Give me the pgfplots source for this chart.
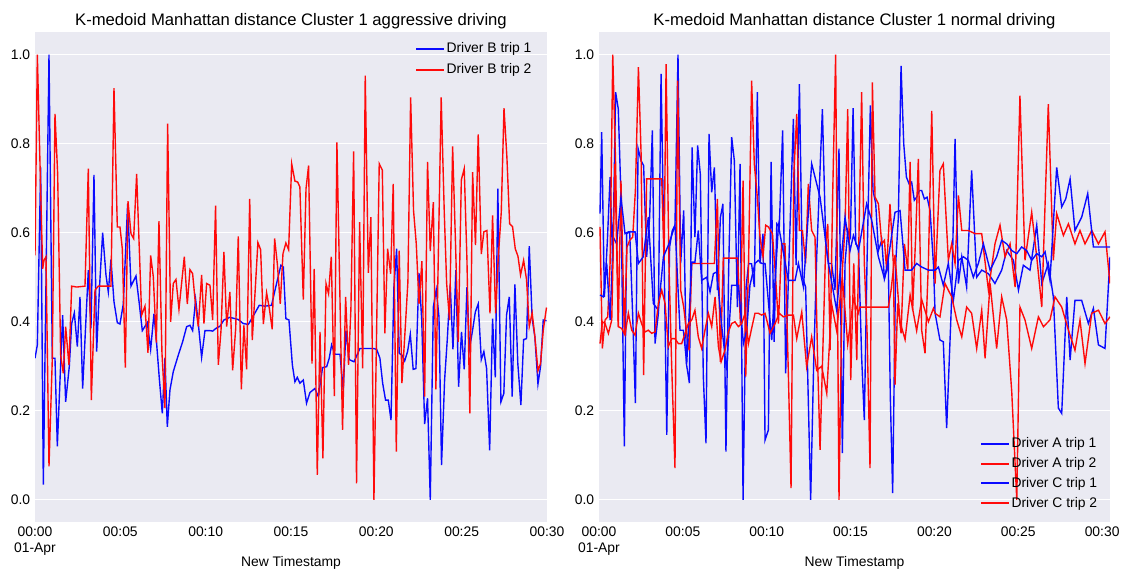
\documentclass[border=0pt]{standalone}
\usepackage{pgfplots}
\pgfplotsset{compat=1.18}
\usepackage{fontspec}
\setmainfont{Liberation Sans}
\definecolor{sbbg}{HTML}{EAEAF2}
\definecolor{lblue}{RGB}{10,10,255}
\definecolor{lred}{RGB}{255,10,10}
\pgfplotsset{
  sbax/.style={
    scale only axis, height=352.44pt,
    ymin=-0.05, ymax=1.05, xmin=0,
    axis background/.style={fill=sbbg},
    axis line style={draw=none},
    tick style={draw=none},
    ymajorgrids, xmajorgrids=false,
    grid style={white, line width=0.8pt},
    ytick={0,0.2,0.4,0.6,0.8,1},
    /pgf/number format/assume math mode=true,
    yticklabel style={/pgf/number format/fixed, /pgf/number format/fixed zerofill, /pgf/number format/precision=1, font=\fontsize{10}{12}\selectfont},
    xtick={0,5,10,15,20,25,30},
    xticklabels={{00:00\\01-Apr},00:05,00:10,00:15,00:20,00:25,00:30},
    xticklabel style={align=center, font=\fontsize{10}{11.5}\selectfont},
    xlabel={New Timestamp},
    xlabel style={at={(axis description cs:0.5,0)}, anchor=center, yshift=-29.5pt, font=\fontsize{10}{12}\selectfont},
    title style={at={(axis description cs:0.5,1)}, anchor=south, yshift=-7pt, font=\fontsize{12}{14}\selectfont},
    legend cell align=left,
  },
  bimg/.style={legend image code/.code={\path[fill=lblue, draw=none] (0pt,-0.7pt) rectangle (20pt,0.7pt);}},
  rimg/.style={legend image code/.code={\path[fill=lred, draw=none] (0pt,-0.7pt) rectangle (20pt,0.7pt);}},
}
\begin{document}
\begin{tikzpicture}
\useasboundingbox (0,0) rectangle (812.88pt,409.68pt);
\begin{axis}[sbax, at={(25.2pt,33.84pt)}, anchor=south west, width=368.64pt, xmax=30,
  title={K-medoid Manhattan distance Cluster 1 aggressive driving},
  legend style={at={(1,1)}, anchor=north east, xshift=-6pt, yshift=-3pt, draw=none, fill=none, text=black, font=\fontsize{10}{12}\selectfont, row sep=2.5pt}]
\addlegendimage{bimg}
\addlegendentry{Driver B trip 1}
\addlegendimage{rimg}
\addlegendentry{Driver B trip 2}
\addplot[draw=lblue, line width=1pt, forget plot] coordinates {
(0.0,0.318)(0.137,0.348)(0.332,0.747)(0.488,0.034)(0.82,1.0)(1.015,0.318)(1.171,0.318)(1.308,0.12)(1.62,0.415)(1.796,0.22)
(2.011,0.30)(2.148,0.396)(2.304,0.42)(2.48,0.344)(2.636,0.456)(2.792,0.25)(3.124,0.516)(3.28,0.385)(3.456,0.73)(3.612,0.333)
(3.769,0.47)(3.964,0.60)(4.159,0.505)(4.296,0.467)(4.452,0.54)(4.628,0.445)(4.823,0.398)(4.979,0.395)(5.175,0.44)(5.428,0.665)
(5.624,0.48)(5.917,0.503)(6.112,0.44)(6.288,0.38)(6.58,0.398)(6.776,0.338)(6.971,0.418)(7.127,0.351)(7.283,0.273)(7.459,0.194)
(7.615,0.318)(7.752,0.164)(7.908,0.247)(8.103,0.288)(8.396,0.325)(8.65,0.355)(8.885,0.389)(9.08,0.392)(9.236,0.38)(9.412,0.45)
(9.568,0.396)(9.763,0.32)(9.959,0.38)(10.252,0.38)(10.41,0.379)(10.6,0.385)(10.84,0.39)(11.07,0.404)(11.42,0.41)(11.91,0.405)
(12.2,0.396)(12.5,0.394)(12.79,0.413)(13.14,0.437)(13.47,0.435)(13.86,0.437)(14.16,0.487)(14.41,0.527)(14.55,0.523)(14.7,0.407)
(14.88,0.404)(15.08,0.303)(15.23,0.265)(15.37,0.275)(15.52,0.262)(15.72,0.269)(15.91,0.217)(16.11,0.241)(16.4,0.25)(16.6,0.232)
(16.85,0.297)(17.09,0.299)(17.24,0.318)(17.38,0.348)(17.57,0.327)(17.87,0.327)(18.06,0.247)(18.22,0.38)(18.41,0.315)(18.69,0.31)
(19.04,0.34)(19.43,0.34)(19.82,0.34)(20.02,0.338)(20.21,0.318)(20.37,0.262)(20.54,0.224)(20.7,0.224)(20.86,0.179)(21.03,0.478)
(21.19,0.564)(21.34,0.329)(21.5,0.325)(21.66,0.312)(21.83,0.333)(21.99,0.372)(22.16,0.293)(22.32,0.295)(22.5,0.509)(22.66,0.404)
(22.83,0.17)(23.0,0.228)(23.16,0.0)(23.34,0.433)(23.51,0.472)(23.67,0.411)(23.82,0.078)(24.0,0.269)(24.16,0.362)(24.33,0.482)
(24.49,0.338)(24.66,0.516)(24.82,0.254)(24.99,0.377)(25.15,0.293)(25.31,0.478)(25.46,0.34)(25.64,0.381)(25.8,0.422)(25.97,0.44)
(26.15,0.315)(26.3,0.333)(26.46,0.295)(26.64,0.111)(26.81,0.407)(26.97,0.275)(27.12,0.699)(27.3,0.22)(27.47,0.239)(27.63,0.415)
(27.79,0.456)(27.96,0.232)(28.12,0.484)(28.29,0.306)(28.47,0.213)(28.63,0.36)(28.8,0.362)(28.96,0.57)(29.13,0.407)(29.29,0.366)
(29.47,0.26)(29.62,0.299)(29.78,0.404)(29.97,0.402)};
\addplot[draw=lred, line width=1pt, forget plot] coordinates {
(0.0,0.549)(0.137,1.0)(0.293,0.755)(0.449,0.519)(0.527,0.538)(0.644,0.546)(0.82,0.075)(1.015,0.318)(1.171,0.867)(1.328,0.732)
(1.503,0.325)(1.659,0.284)(1.796,0.389)(1.991,0.303)(2.148,0.48)(2.441,0.478)(2.929,0.48)(3.124,0.744)(3.3,0.224)(3.515,0.471)
(3.71,0.48)(4.452,0.48)(4.628,0.925)(4.823,0.613)(4.979,0.613)(5.116,0.564)(5.292,0.297)(5.448,0.671)(5.624,0.598)(5.78,0.587)
(5.956,0.732)(6.249,0.415)(6.444,0.435)(6.62,0.33)(6.776,0.549)(6.932,0.501)(7.108,0.353)(7.264,0.626)(7.44,0.329)(7.615,0.206)
(7.772,0.845)(7.947,0.40)(8.103,0.486)(8.26,0.495)(8.435,0.428)(8.748,0.546)(8.924,0.44)(9.08,0.517)(9.236,0.508)(9.412,0.435)
(9.568,0.389)(9.763,0.505)(9.9,0.396)(10.057,0.486)(10.252,0.482)(10.41,0.404)(10.58,0.661)(10.74,0.303)(10.9,0.381)(11.07,0.557)
(11.23,0.389)(11.42,0.467)(11.58,0.291)(11.76,0.385)(11.91,0.592)(12.09,0.248)(12.24,0.392)(12.4,0.293)(12.58,0.676)(12.73,0.359)
(12.89,0.463)(13.06,0.578)(13.22,0.562)(13.38,0.395)(13.57,0.465)(13.73,0.43)(13.9,0.383)(14.04,0.587)(14.2,0.53)(14.37,0.44)
(14.53,0.553)(14.7,0.577)(14.86,0.562)(15.04,0.755)(15.23,0.716)(15.39,0.714)(15.52,0.703)(15.72,0.45)(15.88,0.699)(16.03,0.751)
(16.23,0.306)(16.36,0.519)(16.54,0.056)(16.7,0.377)(16.87,0.093)(17.05,0.486)(17.2,0.463)(17.36,0.546)(17.54,0.233)(17.69,0.803)
(18.02,0.157)(18.2,0.456)(18.37,0.303)(18.51,0.428)(18.67,0.783)(18.84,0.037)(19.02,0.624)(19.2,0.295)(19.35,0.953)(19.53,0.51)
(19.68,0.635)(19.86,0.0)(20.17,0.755)(20.35,0.741)(20.5,0.374)(20.66,0.564)(20.84,0.508)(20.99,0.71)(21.17,0.108)(21.34,0.56)
(21.5,0.262)(21.68,0.377)(21.85,0.49)(22.01,0.904)(22.18,0.65)(22.34,0.575)(22.5,0.44)(22.67,0.536)(22.83,0.232)(23.0,0.759)
(23.16,0.559)(23.34,0.669)(23.49,0.248)(23.8,0.904)(23.98,0.646)(24.12,0.486)(24.29,0.404)(24.47,0.794)(24.64,0.575)(24.8,0.355)
(24.98,0.719)(25.15,0.744)(25.31,0.538)(25.48,0.194)(25.64,0.736)(25.81,0.572)(25.97,0.821)(26.15,0.552)(26.3,0.602)(26.48,0.605)
(26.66,0.419)(26.81,0.639)(26.99,0.419)(27.14,0.542)(27.32,0.646)(27.48,0.88)(27.65,0.77)(27.81,0.62)(27.98,0.614)(28.14,0.564)
(28.3,0.547)(28.45,0.505)(28.63,0.538)(28.8,0.495)(28.96,0.389)(29.13,0.42)(29.29,0.366)(29.47,0.29)(29.62,0.306)(29.78,0.381)
(29.97,0.432)};
\end{axis}
\begin{axis}[sbax, at={(431.28pt,33.84pt)}, anchor=south west, width=367.92pt, xmax=30.47,
  title={K-medoid Manhattan distance Cluster 1 normal driving},
  legend style={at={(1,0)}, anchor=south east, xshift=-4pt, yshift=5pt, draw=none, fill=none, text=black, font=\fontsize{10}{12}\selectfont, row sep=1.5pt}]
\addlegendimage{bimg}
\addlegendentry{Driver A trip 1}
\addlegendimage{rimg}
\addlegendentry{Driver A trip 2}
\addlegendimage{bimg}
\addlegendentry{Driver C trip 1}
\addlegendimage{rimg}
\addlegendentry{Driver C trip 2}
\addplot[draw=lblue, line width=1pt, forget plot] coordinates {
(0.06,0.643)(0.16,0.826)(0.32,0.456)(0.5,0.583)(0.66,0.725)(0.82,0.531)(0.99,0.916)(1.15,0.878)(1.31,0.68)(1.51,0.12)
(1.65,0.598)(1.83,0.602)(2.01,0.411)(2.17,0.217)(2.33,0.789)(2.51,0.762)(2.66,0.751)(2.84,0.546)(3.02,0.635)(3.18,0.83)
(3.34,0.351)(3.54,0.419)(3.7,0.957)(3.88,0.546)(4.04,0.146)(4.21,0.568)(4.37,0.605)(4.53,0.617)(4.71,1.0)(4.87,0.531)
(5.05,0.65)(5.21,0.306)(5.39,0.262)(5.55,0.792)(5.72,0.59)(5.88,0.796)(6.04,0.732)(6.22,0.277)(6.38,0.127)(6.56,0.822)
(6.72,0.691)(6.88,0.747)(7.06,0.471)(7.24,0.635)(7.39,0.665)(7.57,0.108)(7.73,0.516)(7.91,0.815)(8.07,0.762)(8.25,0.433)
(8.41,0.755)(8.59,0.0)(8.77,0.478)(8.92,0.531)(9.1,0.53)(9.26,0.478)(9.44,0.916)(9.6,0.531)(9.78,0.598)(9.9,0.134)
(10.1,0.157)(10.26,0.759)(10.44,0.355)(10.6,0.62)(10.75,0.613)(10.95,0.83)(11.13,0.284)(11.29,0.493)(11.59,0.856)(11.75,0.527)
(11.95,0.934)(12.13,0.5)(12.32,0.478)(12.62,0.0)(12.8,0.306)(12.98,0.546)(13.14,0.703)(13.32,0.878)(13.52,0.575)(13.68,0.531)
(13.87,0.531)(14.07,0.471)(14.31,0.789)(14.51,0.105)(14.67,0.531)(14.83,0.605)(14.99,0.59)(15.15,0.88)(15.31,0.575)(15.47,0.568)
(15.66,0.321)(15.82,0.179)(15.98,0.531)(16.18,0.886)(16.34,0.695)(16.5,0.665)(16.66,0.56)(16.86,0.583)(17.02,0.497)(17.25,0.531)
(17.37,0.232)(17.51,0.015)(17.69,0.531)(17.85,0.635)(18.01,0.975)(18.17,0.8)(18.33,0.725)(18.49,0.71)(18.64,0.714)(18.8,0.673)
(18.94,0.68)(19.1,0.695)(19.24,0.695)(19.4,0.676)(19.56,0.68)(19.74,0.65)(19.94,0.531)(20.04,0.419)(20.33,0.359)(20.53,0.355)
(20.73,0.161)(21.03,0.456)(21.23,0.811)(21.43,0.486)(21.63,0.546)(21.92,0.478)(22.22,0.74)(22.52,0.5)(22.82,0.516)(23.22,0.508)
(23.61,0.486)(24.01,0.516)(24.31,0.56)(24.71,0.538)(25.01,0.471)(25.3,0.527)(25.7,0.516)(26.1,0.617)(26.4,0.486)(26.79,0.531)
(27.09,0.456)(27.39,0.206)(27.59,0.194)(27.89,0.456)(28.09,0.314)(28.38,0.448)(28.78,0.448)(29.18,0.396)(29.48,0.43)(29.78,0.348)
(30.17,0.34)(30.47,0.546)};
\addplot[draw=lred, line width=1pt, forget plot] coordinates {
(0.06,0.613)(0.2,0.34)(0.36,0.404)(0.52,0.411)(0.66,0.531)(0.82,1.0)(0.99,0.755)(1.15,0.389)(1.31,0.717)(1.51,0.374)
(1.67,0.568)(1.83,0.583)(2.01,0.59)(2.17,0.695)(2.35,0.972)(2.51,0.777)(2.66,0.28)(2.84,0.721)(3.74,0.721)(3.88,0.538)
(4.0,0.979)(4.17,0.531)(4.33,0.306)(4.53,0.071)(4.69,0.942)(4.87,0.471)(5.05,0.433)(5.21,0.381)(5.37,0.336)(5.53,0.531)
(6.88,0.531)(7.06,0.676)(7.24,0.31)(7.41,0.543)(8.27,0.543)(8.43,0.396)(8.59,0.717)(8.75,0.277)(8.92,0.538)(9.1,0.942)
(9.26,0.755)(9.44,0.68)(9.6,0.59)(9.78,0.546)(9.94,0.617)(10.1,0.613)(10.34,0.598)(10.5,0.516)(10.7,0.396)(10.89,0.575)
(11.09,0.575)(11.29,0.284)(11.45,0.026)(11.61,0.725)(11.79,0.867)(11.95,0.605)(12.13,0.605)(12.32,0.531)(12.48,0.71)(12.68,0.605)
(12.88,0.59)(13.04,0.306)(13.18,0.112)(13.38,0.381)(13.52,0.575)(13.64,0.62)(13.78,0.336)(13.93,0.68)(14.11,1.0)(14.31,0.0)
(14.51,0.516)(14.67,0.613)(14.83,0.878)(15.01,0.269)(15.19,0.531)(15.37,0.314)(15.52,0.635)(15.66,0.916)(15.82,0.531)(15.98,0.381)
(16.16,0.071)(16.3,0.938)(16.46,0.68)(16.66,0.665)(16.86,0.575)(17.02,0.583)(17.15,0.516)(17.35,0.665)(17.55,0.531)(17.65,0.258)
(17.81,0.441)(18.01,0.374)(18.21,0.575)(18.41,0.516)(18.55,0.759)(18.7,0.426)(18.88,0.59)(19.04,0.766)(19.24,0.381)(19.44,0.329)
(19.64,0.531)(19.84,0.874)(20.04,0.486)(20.33,0.74)(20.53,0.755)(20.83,0.538)(21.03,0.575)(21.23,0.531)(21.43,0.684)(21.63,0.605)
(22.02,0.605)(22.42,0.598)(22.82,0.598)(23.22,0.471)(23.61,0.575)(23.91,0.617)(24.21,0.546)(24.51,0.575)(24.81,0.478)(25.1,0.908)
(25.4,0.538)(25.8,0.646)(26.1,0.546)(26.4,0.433)(26.79,0.889)(27.09,0.538)(27.29,0.643)(27.69,0.594)(27.99,0.62)(28.38,0.575)
(28.68,0.605)(28.98,0.575)(29.38,0.605)(29.78,0.575)(30.17,0.602)(30.47,0.486)};
\addplot[draw=lblue, line width=1pt, forget plot] coordinates {
(0.06,0.46)(0.26,0.456)(0.46,0.531)(0.66,0.404)(0.85,0.59)(1.05,0.575)(1.31,0.68)(1.55,0.598)(1.75,0.602)(2.15,0.602)
(2.35,0.531)(2.64,0.546)(2.94,0.635)(3.24,0.441)(3.54,0.426)(3.84,0.546)(4.17,0.575)(4.53,0.617)(4.83,0.381)(5.03,0.381)
(5.23,0.306)(5.53,0.534)(5.72,0.534)(5.92,0.605)(6.12,0.493)(6.42,0.5)(6.62,0.467)(6.82,0.508)(7.02,0.512)(7.32,0.389)
(7.61,0.291)(7.91,0.482)(8.31,0.482)(8.61,0.351)(8.81,0.381)(9.0,0.482)(9.3,0.531)(9.5,0.538)(9.7,0.531)(9.9,0.531)
(10.3,0.359)(10.5,0.493)(10.7,0.617)(11.29,0.493)(11.69,0.493)(11.89,0.531)(12.19,0.478)(12.68,0.755)(13.18,0.68)(13.68,0.531)
(14.17,0.426)(14.67,0.635)(14.97,0.56)(15.17,0.594)(15.47,0.56)(15.96,0.665)(16.26,0.628)(16.66,0.546)(17.02,0.497)(17.21,0.531)
(17.41,0.583)(17.65,0.646)(17.95,0.65)(18.25,0.516)(18.64,0.516)(18.94,0.531)(19.24,0.523)(19.64,0.516)(19.94,0.516)(20.04,0.516)
(20.24,0.523)(20.53,0.482)(20.83,0.531)(21.13,0.448)(21.43,0.538)(21.73,0.546)(22.02,0.538)(22.32,0.5)(22.62,0.531)(22.92,0.575)
(23.32,0.516)(23.71,0.546)(24.01,0.583)(24.31,0.575)(24.61,0.56)(24.91,0.553)(25.2,0.568)(25.5,0.56)(25.8,0.538)(26.1,0.553)
(26.4,0.546)(26.6,0.557)(26.89,0.493)(27.29,0.747)(27.59,0.658)(27.83,0.676)(28.09,0.721)(28.38,0.605)(28.78,0.635)(29.14,0.688)
(29.48,0.568)(29.87,0.568)(30.47,0.568)};
\addplot[draw=lred, line width=1pt, forget plot] coordinates {
(0.06,0.351)(0.2,0.4)(0.36,0.396)(0.56,0.374)(0.76,0.404)(0.95,0.755)(1.15,0.389)(1.35,0.385)(1.55,0.37)(1.75,0.419)
(1.95,0.381)(2.15,0.37)(2.35,0.419)(2.54,0.396)(2.74,0.377)(2.94,0.381)(3.14,0.374)(3.34,0.377)(3.54,0.441)(3.74,0.471)
(3.94,0.441)(4.13,0.344)(4.33,0.362)(4.53,0.362)(4.73,0.351)(4.93,0.351)(5.13,0.374)(5.33,0.396)(5.53,0.404)(5.72,0.426)
(5.92,0.366)(6.12,0.34)(6.32,0.381)(6.52,0.419)(6.72,0.389)(6.92,0.456)(7.12,0.344)(7.28,0.31)(7.51,0.336)(7.71,0.377)
(7.91,0.396)(8.11,0.4)(8.31,0.389)(8.51,0.396)(8.71,0.419)(8.91,0.351)(9.1,0.385)(9.3,0.419)(9.5,0.419)(9.7,0.415)
(9.9,0.419)(10.2,0.374)(10.5,0.396)(10.75,0.419)(10.99,0.411)(11.29,0.415)(11.59,0.415)(11.79,0.362)(12.09,0.422)(12.38,0.299)
(12.68,0.366)(12.98,0.291)(13.28,0.3)(13.58,0.239)(13.87,0.44)(14.17,0.38)(14.51,0.5)(14.83,0.35)(15.17,0.45)(15.47,0.42)
(15.56,0.433)(17.25,0.433)(17.41,0.47)(17.65,0.55)(17.95,0.40)(18.25,0.36)(18.55,0.46)(18.94,0.38)(19.24,0.45)(19.64,0.4)
(19.94,0.43)(20.04,0.419)(20.33,0.411)(20.63,0.486)(21.03,0.456)(21.33,0.404)(21.63,0.366)(21.92,0.433)(22.22,0.419)(22.52,0.34)
(22.82,0.426)(23.02,0.318)(23.32,0.486)(23.71,0.34)(24.01,0.456)(24.31,0.404)(24.61,0.243)(24.91,0.0)(25.1,0.433)(25.4,0.404)
(25.8,0.34)(26.2,0.411)(26.5,0.389)(26.89,0.404)(27.19,0.456)(27.59,0.433)(27.99,0.381)(28.38,0.336)(28.68,0.404)(28.98,0.306)
(29.38,0.419)(29.78,0.426)(30.17,0.396)(30.47,0.411)};
\end{axis}
\end{tikzpicture}
\end{document}
